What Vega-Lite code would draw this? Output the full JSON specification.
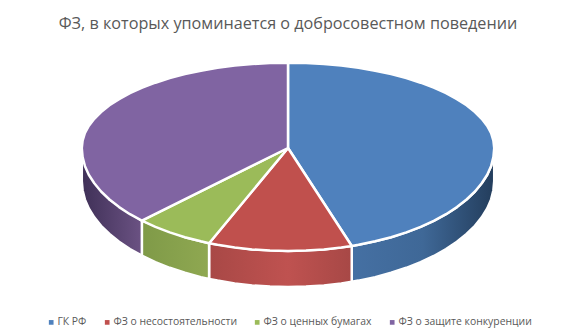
{"$schema":"https://vega.github.io/schema/vega-lite/v6.json","width":576,"height":336,"padding":0,"autosize":"none","background":"white","config":{"view":{"stroke":null}},
"title":{"text":"ФЗ, в которых упоминается о добросовестном поведении","font":"Open Sans","fontSize":16.2,"fontWeight":"normal","color":"#595959","anchor":"middle","offset":-32},
"encoding":{"x":{"field":"x","type":"quantitative","axis":null,"scale":{"domain":[-1.405,1.405],"nice":false,"zero":false}},"y":{"field":"y","type":"quantitative","axis":null,"scale":{"domain":[-1.88,1.48],"nice":false,"zero":false}},"order":{"field":"i","type":"ordinal"}},
"layer":[
{"mark":{"type":"line","stroke":"white","strokeWidth":2.5,"strokeJoin":"round","fill":{"gradient":"linear","x1":0,"y1":0,"x2":1,"y2":0,"stops":[{"offset":0,"color":"#4570a3"},{"offset":0.5,"color":"#3f6897"},{"offset":1,"color":"#233d5c"}]}},
"data":{"values":[{"i":0,"x":0.311,"y":-0.98},{"i":1,"x":0.344,"y":-0.968},{"i":2,"x":0.425,"y":-0.933},{"i":3,"x":0.503,"y":-0.892},{"i":4,"x":0.577,"y":-0.844},{"i":5,"x":0.647,"y":-0.789},{"i":6,"x":0.711,"y":-0.728},{"i":7,"x":0.771,"y":-0.662},{"i":8,"x":0.824,"y":-0.591},{"i":9,"x":0.871,"y":-0.515},{"i":10,"x":0.912,"y":-0.435},{"i":11,"x":0.945,"y":-0.352},{"i":12,"x":0.972,"y":-0.267},{"i":13,"x":0.991,"y":-0.179},{"i":14,"x":1.002,"y":-0.09},{"i":15,"x":1.006,"y":0},{"i":16,"x":1.006,"y":-0.33},{"i":17,"x":1.002,"y":-0.422},{"i":18,"x":0.991,"y":-0.514},{"i":19,"x":0.972,"y":-0.604},{"i":20,"x":0.945,"y":-0.693},{"i":21,"x":0.912,"y":-0.778},{"i":22,"x":0.871,"y":-0.86},{"i":23,"x":0.824,"y":-0.938},{"i":24,"x":0.771,"y":-1.011},{"i":25,"x":0.711,"y":-1.08},{"i":26,"x":0.647,"y":-1.142},{"i":27,"x":0.577,"y":-1.198},{"i":28,"x":0.503,"y":-1.248},{"i":29,"x":0.425,"y":-1.291},{"i":30,"x":0.344,"y":-1.326},{"i":31,"x":0.311,"y":-1.338},{"i":32,"x":0.311,"y":-0.98}]}},
{"mark":{"type":"line","stroke":"white","strokeWidth":2.5,"strokeJoin":"round","fill":{"gradient":"linear","x1":0,"y1":0,"x2":1,"y2":0,"stops":[{"offset":0,"color":"#a84846"},{"offset":0.55,"color":"#bf5250"},{"offset":1,"color":"#a74846"}]}},
"data":{"values":[{"i":0,"x":0.311,"y":-0.98},{"i":1,"x":0.175,"y":-1.014},{"i":2,"x":0,"y":-1.03},{"i":3,"x":-0.175,"y":-1.014},{"i":4,"x":-0.385,"y":-0.952},{"i":5,"x":-0.385,"y":-1.309},{"i":6,"x":-0.344,"y":-1.326},{"i":7,"x":-0.26,"y":-1.354},{"i":8,"x":-0.175,"y":-1.374},{"i":9,"x":-0.088,"y":-1.386},{"i":10,"x":0,"y":-1.39},{"i":11,"x":0.088,"y":-1.386},{"i":12,"x":0.175,"y":-1.374},{"i":13,"x":0.26,"y":-1.354},{"i":14,"x":0.311,"y":-1.338},{"i":15,"x":0.311,"y":-0.98}]}},
{"mark":{"type":"line","stroke":"white","strokeWidth":2.5,"strokeJoin":"round","fill":{"gradient":"linear","x1":0,"y1":0,"x2":1,"y2":0,"stops":[{"offset":0,"color":"#7f9a48"},{"offset":1,"color":"#8fa851"}]}},
"data":{"values":[{"i":0,"x":-0.385,"y":-0.952},{"i":1,"x":-0.503,"y":-0.892},{"i":2,"x":-0.713,"y":-0.726},{"i":3,"x":-0.713,"y":-1.077},{"i":4,"x":-0.647,"y":-1.142},{"i":5,"x":-0.577,"y":-1.198},{"i":6,"x":-0.503,"y":-1.248},{"i":7,"x":-0.425,"y":-1.291},{"i":8,"x":-0.385,"y":-1.309},{"i":9,"x":-0.385,"y":-0.952}]}},
{"mark":{"type":"line","stroke":"white","strokeWidth":2.5,"strokeJoin":"round","fill":{"gradient":"linear","x1":0,"y1":0,"x2":1,"y2":0,"stops":[{"offset":0,"color":"#3f3057"},{"offset":1,"color":"#6b5283"}]}},
"data":{"values":[{"i":0,"x":-0.713,"y":-0.726},{"i":1,"x":-0.871,"y":-0.515},{"i":2,"x":-1.006,"y":0},{"i":3,"x":-1.006,"y":-0.33},{"i":4,"x":-1.002,"y":-0.422},{"i":5,"x":-0.991,"y":-0.514},{"i":6,"x":-0.972,"y":-0.604},{"i":7,"x":-0.945,"y":-0.693},{"i":8,"x":-0.912,"y":-0.778},{"i":9,"x":-0.871,"y":-0.86},{"i":10,"x":-0.824,"y":-0.938},{"i":11,"x":-0.771,"y":-1.011},{"i":12,"x":-0.713,"y":-1.077},{"i":13,"x":-0.713,"y":-0.726}]}},
{"mark":{"type":"line","stroke":"white","strokeWidth":2.5,"strokeJoin":"round"},
"encoding":{"fill":{"field":"s","type":"nominal","scale":{"domain":["ГК РФ","ФЗ о несостоятельности","ФЗ о ценных бумагах","ФЗ о защите конкуренции"],"range":["#4F81BD","#C0504D","#9BBB59","#8064A2"]},"legend":{"title":null,"orient":"none","legendX":46,"legendY":317,"direction":"horizontal","columns":4,"symbolType":"square","symbolSize":22,"symbolStrokeWidth":0,"labelFont":"Open Sans","labelFontSize":10.4,"labelColor":"#595959","columnPadding":15,"labelOffset":1}}},
"data":{"values":[
{"s":"ГК РФ","i":0,"x":0,"y":0},{"s":"ГК РФ","i":1,"x":0,"y":0.853},{"s":"ГК РФ","i":2,"x":0.088,"y":0.85},{"s":"ГК РФ","i":3,"x":0.175,"y":0.84},{"s":"ГК РФ","i":4,"x":0.26,"y":0.824},{"s":"ГК РФ","i":5,"x":0.344,"y":0.802},{"s":"ГК РФ","i":6,"x":0.425,"y":0.773},{"s":"ГК РФ","i":7,"x":0.503,"y":0.739},{"s":"ГК РФ","i":8,"x":0.577,"y":0.699},{"s":"ГК РФ","i":9,"x":0.647,"y":0.653},{"s":"ГК РФ","i":10,"x":0.711,"y":0.603},{"s":"ГК РФ","i":11,"x":0.771,"y":0.548},{"s":"ГК РФ","i":12,"x":0.824,"y":0.489},{"s":"ГК РФ","i":13,"x":0.871,"y":0.427},{"s":"ГК РФ","i":14,"x":0.912,"y":0.36},{"s":"ГК РФ","i":15,"x":0.945,"y":0.292},{"s":"ГК РФ","i":16,"x":0.972,"y":0.221},{"s":"ГК РФ","i":17,"x":0.991,"y":0.148},{"s":"ГК РФ","i":18,"x":1.002,"y":0.074},{"s":"ГК РФ","i":19,"x":1.006,"y":0},{"s":"ГК РФ","i":20,"x":1.002,"y":-0.09},{"s":"ГК РФ","i":21,"x":0.991,"y":-0.179},{"s":"ГК РФ","i":22,"x":0.972,"y":-0.267},{"s":"ГК РФ","i":23,"x":0.945,"y":-0.352},{"s":"ГК РФ","i":24,"x":0.912,"y":-0.435},{"s":"ГК РФ","i":25,"x":0.871,"y":-0.515},{"s":"ГК РФ","i":26,"x":0.824,"y":-0.591},{"s":"ГК РФ","i":27,"x":0.771,"y":-0.662},{"s":"ГК РФ","i":28,"x":0.711,"y":-0.728},{"s":"ГК РФ","i":29,"x":0.647,"y":-0.789},{"s":"ГК РФ","i":30,"x":0.577,"y":-0.844},{"s":"ГК РФ","i":31,"x":0.503,"y":-0.892},{"s":"ГК РФ","i":32,"x":0.425,"y":-0.933},{"s":"ГК РФ","i":33,"x":0.344,"y":-0.968},{"s":"ГК РФ","i":34,"x":0.311,"y":-0.98},{"s":"ГК РФ","i":35,"x":0,"y":0},
{"s":"ФЗ о несостоятельности","i":0,"x":0,"y":0},{"s":"ФЗ о несостоятельности","i":1,"x":0.311,"y":-0.98},{"s":"ФЗ о несостоятельности","i":2,"x":0.26,"y":-0.995},{"s":"ФЗ о несостоятельности","i":3,"x":0.175,"y":-1.014},{"s":"ФЗ о несостоятельности","i":4,"x":0.088,"y":-1.026},{"s":"ФЗ о несостоятельности","i":5,"x":0,"y":-1.03},{"s":"ФЗ о несостоятельности","i":6,"x":-0.088,"y":-1.026},{"s":"ФЗ о несостоятельности","i":7,"x":-0.175,"y":-1.014},{"s":"ФЗ о несостоятельности","i":8,"x":-0.26,"y":-0.995},{"s":"ФЗ о несостоятельности","i":9,"x":-0.344,"y":-0.968},{"s":"ФЗ о несостоятельности","i":10,"x":-0.385,"y":-0.952},{"s":"ФЗ о несостоятельности","i":11,"x":0,"y":0},
{"s":"ФЗ о ценных бумагах","i":0,"x":0,"y":0},{"s":"ФЗ о ценных бумагах","i":1,"x":-0.385,"y":-0.952},{"s":"ФЗ о ценных бумагах","i":2,"x":-0.425,"y":-0.933},{"s":"ФЗ о ценных бумагах","i":3,"x":-0.503,"y":-0.892},{"s":"ФЗ о ценных бумагах","i":4,"x":-0.577,"y":-0.844},{"s":"ФЗ о ценных бумагах","i":5,"x":-0.647,"y":-0.789},{"s":"ФЗ о ценных бумагах","i":6,"x":-0.713,"y":-0.726},{"s":"ФЗ о ценных бумагах","i":7,"x":0,"y":0},
{"s":"ФЗ о защите конкуренции","i":0,"x":0,"y":0},{"s":"ФЗ о защите конкуренции","i":1,"x":-0.713,"y":-0.726},{"s":"ФЗ о защите конкуренции","i":2,"x":-0.771,"y":-0.662},{"s":"ФЗ о защите конкуренции","i":3,"x":-0.824,"y":-0.591},{"s":"ФЗ о защите конкуренции","i":4,"x":-0.871,"y":-0.515},{"s":"ФЗ о защите конкуренции","i":5,"x":-0.912,"y":-0.435},{"s":"ФЗ о защите конкуренции","i":6,"x":-0.945,"y":-0.352},{"s":"ФЗ о защите конкуренции","i":7,"x":-0.972,"y":-0.267},{"s":"ФЗ о защите конкуренции","i":8,"x":-0.991,"y":-0.179},{"s":"ФЗ о защите конкуренции","i":9,"x":-1.002,"y":-0.09},{"s":"ФЗ о защите конкуренции","i":10,"x":-1.006,"y":0},{"s":"ФЗ о защите конкуренции","i":11,"x":-1.002,"y":0.074},{"s":"ФЗ о защите конкуренции","i":12,"x":-0.991,"y":0.148},{"s":"ФЗ о защите конкуренции","i":13,"x":-0.972,"y":0.221},{"s":"ФЗ о защите конкуренции","i":14,"x":-0.945,"y":0.292},{"s":"ФЗ о защите конкуренции","i":15,"x":-0.912,"y":0.36},{"s":"ФЗ о защите конкуренции","i":16,"x":-0.871,"y":0.427},{"s":"ФЗ о защите конкуренции","i":17,"x":-0.824,"y":0.489},{"s":"ФЗ о защите конкуренции","i":18,"x":-0.771,"y":0.548},{"s":"ФЗ о защите конкуренции","i":19,"x":-0.711,"y":0.603},{"s":"ФЗ о защите конкуренции","i":20,"x":-0.647,"y":0.653},{"s":"ФЗ о защите конкуренции","i":21,"x":-0.577,"y":0.699},{"s":"ФЗ о защите конкуренции","i":22,"x":-0.503,"y":0.739},{"s":"ФЗ о защите конкуренции","i":23,"x":-0.425,"y":0.773},{"s":"ФЗ о защите конкуренции","i":24,"x":-0.344,"y":0.802},{"s":"ФЗ о защите конкуренции","i":25,"x":-0.26,"y":0.824},{"s":"ФЗ о защите конкуренции","i":26,"x":-0.175,"y":0.84},{"s":"ФЗ о защите конкуренции","i":27,"x":-0.088,"y":0.85},{"s":"ФЗ о защите конкуренции","i":28,"x":0,"y":0.853},{"s":"ФЗ о защите конкуренции","i":29,"x":0,"y":0}
]}}
]}
